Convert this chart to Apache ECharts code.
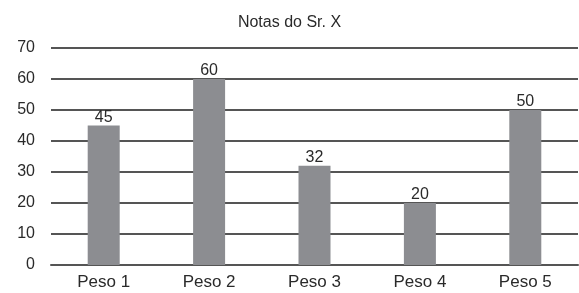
<!DOCTYPE html>
<html><head><meta charset="utf-8">
<script src="https://cdn.jsdelivr.net/npm/echarts@6/dist/echarts.min.js"></script>
<style>html,body{margin:0;padding:0;background:#fff}#c{width:579px;height:293px}</style>
</head><body><div id="c"></div>
<script>
var titleText = 'Notas do Sr. X';
var categories = ['Peso 1', 'Peso 2', 'Peso 3', 'Peso 4', 'Peso 5'];
var values = [45, 60, 32, 20, 50];
var yTicks = [0, 10, 20, 30, 40, 50, 60, 70];

var chart = echarts.init(document.getElementById('c'), null, {renderer: 'canvas'});
chart.setOption({
  animation: false,
  backgroundColor: '#fff',
  title: {text: titleText, left: 'center', top: 10,
    textStyle: {fontFamily: 'Liberation Sans', fontSize: 16, fontWeight: 'normal', color: '#2a2a2a'}},
  grid: {left: 51, right: 1, top: 48, bottom: 28, containLabel: false},
  xAxis: {type: 'category', data: categories,
    axisLine: {show: true, lineStyle: {color: '#555', width: 2}},
    axisTick: {show: false},
    axisLabel: {fontFamily: 'Liberation Sans', fontSize: 17, color: '#2a2a2a', margin: 9}},
  yAxis: {type: 'value', min: yTicks[0], max: yTicks[yTicks.length - 1], interval: 10,
    axisLine: {show: false}, axisTick: {show: false},
    splitLine: {lineStyle: {color: '#555', width: 2}},
    axisLabel: {fontFamily: 'Liberation Sans', fontSize: 16, color: '#2a2a2a', margin: 16}},
  series: [{type: 'bar', data: values, barWidth: 32,
    itemStyle: {color: '#8c8d91'},
    label: {show: true, position: 'top', distance: 0, fontFamily: 'Liberation Sans', fontSize: 16, color: '#2a2a2a'}}]
});
</script></body></html>
